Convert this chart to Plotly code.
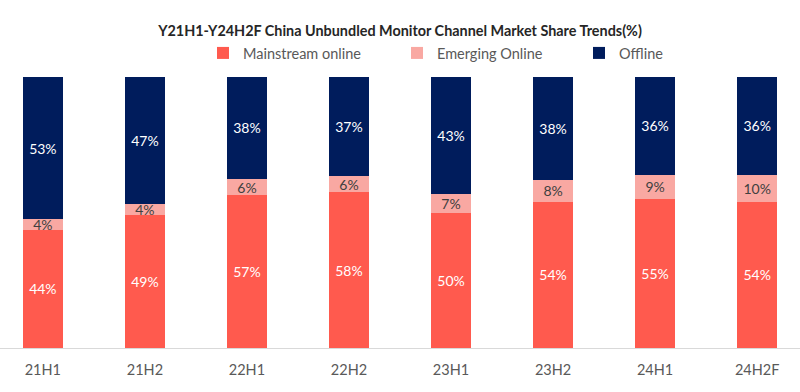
import plotly.graph_objects as go

categories = ["21H1", "21H2", "22H1", "22H2", "23H1", "23H2", "24H1", "24H2F"]
mainstream_online = [44, 49, 57, 58, 50, 54, 55, 54]
emerging_online = [4, 4, 6, 6, 7, 8, 9, 10]
offline = [53, 47, 38, 37, 43, 38, 36, 36]

series = [
    ("Mainstream online", mainstream_online, "#FF5A4E", "white", "legend", 224),
    ("Emerging Online", emerging_online, "#F9A8A2", "#404040", "legend2", 418),
    ("Offline", offline, "#001C5C", "white", "legend3", 600),
]

FONT = "Lato"
W, H = 800, 392
SYM_OFFSET = 21  # px from legend left edge to symbol centre

fig = go.Figure()
layout_legends = {}
for name, vals, color, tcolor, lg, sx in series:
    fig.add_trace(go.Bar(
        x=categories, y=vals, name=name,
        marker=dict(color=color, line=dict(width=0)),
        width=0.39,
        text=[f"{v}%" for v in vals],
        textposition="inside", insidetextanchor="middle", textangle=0,
        textfont=dict(color=tcolor, size=14, family=FONT),
        legend=lg,
    ))
    layout_legends[lg] = dict(
        orientation="h", x=(sx - SYM_OFFSET) / W, xanchor="left", xref="container",
        y=1 - 53 / H, yanchor="middle", yref="container",
        font=dict(size=14.5, color="#595959", family=FONT), itemclick=False,
        bgcolor="rgba(0,0,0,0)",
    )

fig.update_layout(
    barmode="stack", barnorm="percent",
    width=W, height=H,
    margin=dict(l=0, r=0, t=77, b=44, autoexpand=False),
    paper_bgcolor="white", plot_bgcolor="white",
    font=dict(family=FONT, color="#595959", size=14),
    title=dict(text="<b>Y21H1-Y24H2F China Unbundled Monitor Channel Market Share Trends(%)</b>",
               x=0.5, xanchor="center", xref="paper", y=1 - 31 / H, yanchor="middle",
               font=dict(size=14.4, color="#262626", family=FONT)),
    uniformtext=dict(minsize=14, mode="show"),
    showlegend=True,
    **layout_legends,
)
fig.update_xaxes(range=[-0.42, 7.42], showline=True, linecolor="#D9D9D9", linewidth=1,
                 ticks="", showgrid=False, automargin=False, ticklabelstandoff=9,
                 tickfont=dict(size=14.5, color="#595959"))
fig.update_yaxes(range=[0, 100], visible=False, showgrid=False, automargin=False)

fig.write_html("out.html", config={"displayModeBar": False},
               post_script="document.body.style.margin='0';document.body.style.overflow='hidden';")
